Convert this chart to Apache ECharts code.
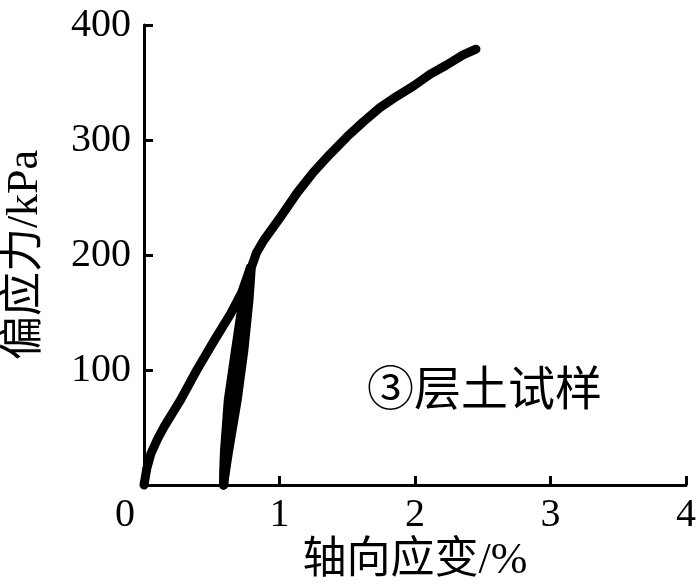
<!DOCTYPE html>
<html>
<head>
<meta charset="utf-8">
<script src="https://cdn.jsdelivr.net/npm/echarts@6/dist/echarts.min.js"></script>
<style>
html, body { margin: 0; padding: 0; background: #fff; }
#chart { width: 700px; height: 588px; }
</style>
</head>
<body>
<div id="chart"></div>
<script>
// 加载段
var loadStrain = [0.00, 0.02, 0.05, 0.10, 0.15, 0.27, 0.39, 0.52, 0.64, 0.72, 0.785];
var loadStress = [0, 14, 27, 40, 51, 74, 100, 126, 149, 167, 189];
// 卸载段
var unloadStrain = [0.785, 0.765, 0.73, 0.675, 0.622, 0.594, 0.588, 0.587];
var unloadStress = [189, 178, 161, 117, 74, 30, 12, 0];
// 循环中间段（重复加卸载）
var cycleStrain = [0.587, 0.597, 0.608, 0.653, 0.706, 0.752, 0.788];
var cycleStress = [0, 12, 30, 74, 117, 161, 189];
// 再加载段
var reloadStrain = [0.587, 0.602, 0.625, 0.688, 0.737, 0.775, 0.792, 0.83, 0.885, 1.007, 1.13, 1.25, 1.375, 1.50, 1.62, 1.74, 1.865, 1.99, 2.11, 2.23, 2.355, 2.45];
var reloadStress = [0, 12, 30, 74, 117, 161, 189, 202, 213, 233, 254, 272, 288, 303, 316, 328, 338, 347, 357, 365, 374, 379];

var xTicks = ['0', '1', '2', '3', '4'];
var yTicks = ['0', '100', '200', '300', '400'];

function pairs(xs, ys) {
    var out = [];
    for (var i = 0; i < xs.length; i++) out.push([xs[i], ys[i]]);
    return out;
}

var serif = 'Liberation Serif, Times New Roman, serif';
var cjk = 'Liberation Serif, Noto Sans CJK SC, serif';

var lineStyle = { color: '#000', width: 9, cap: 'round', join: 'round' };

var myChart = echarts.init(document.getElementById('chart'));

var option = {
    animation: false,
    backgroundColor: '#fff',
    grid: { left: 144, right: 14, top: 25, bottom: 103, outerBoundsMode: 'none' },
    xAxis: {
        type: 'value',
        min: 0, max: 4, interval: 1,
        name: '轴向应变/%',
        nameLocation: 'middle',
        nameGap: 46,
        nameTextStyle: { fontFamily: cjk, fontSize: 44, color: '#000' },
        axisLine: { lineStyle: { color: '#000', width: 3 } },
        axisTick: { inside: true, length: 9, lineStyle: { color: '#000', width: 3 } },
        axisLabel: {
            fontFamily: serif, fontSize: 40, color: '#000', margin: 10,
            formatter: function (v) { return v === 0 ? '' : xTicks[v]; }
        },
        splitLine: { show: false }
    },
    yAxis: {
        type: 'value',
        min: 0, max: 400, interval: 100,
        name: '偏应力/kPa',
        nameLocation: 'middle',
        nameGap: 97,
        nameTextStyle: { fontFamily: cjk, fontSize: 44, color: '#000' },
        axisLine: { lineStyle: { color: '#000', width: 3 } },
        axisTick: { inside: true, length: 9, lineStyle: { color: '#000', width: 3 } },
        axisLabel: {
            fontFamily: serif, fontSize: 40, color: '#000', margin: 13,
            formatter: function (v) { return v === 0 ? '' : yTicks[v / 100]; }
        },
        splitLine: { show: false }
    },
    graphic: [
        { type: 'text', left: 115, top: 495, style: { text: xTicks[0], font: '40px ' + serif, fill: '#000' } },
        { type: 'text', left: 367, top: 369, style: { text: '③层土试样', font: '47px ' + cjk, fill: '#000' } }
    ],
    series: [
        { type: 'line', data: pairs(loadStrain, loadStress), showSymbol: false, clip: false, lineStyle: lineStyle },
        { type: 'line', data: pairs(unloadStrain, unloadStress), showSymbol: false, clip: false, lineStyle: lineStyle },
        { type: 'line', data: pairs(cycleStrain, cycleStress), showSymbol: false, clip: false, lineStyle: lineStyle },
        { type: 'line', data: pairs(reloadStrain, reloadStress), showSymbol: false, clip: false, lineStyle: lineStyle }
    ]
};

myChart.setOption(option);
</script>
</body>
</html>
